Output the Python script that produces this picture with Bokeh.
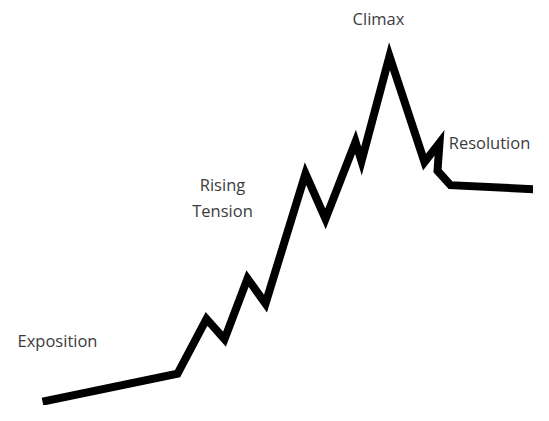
from bokeh.plotting import figure
from bokeh.models import Range1d
from bokeh.core.properties import value
from bokeh.embed import file_html
from bokeh.resources import INLINE

# Story arc (horizontal progress, dramatic intensity)
arc_x = [42, 177, 206, 224, 247, 265, 305, 325, 355, 361, 389, 424, 439, 437, 450, 550]
arc_y = [4, 33, 90, 69, 132, 106, 241, 194, 274, 254, 363, 253, 273, 244, 229, 224]

label_text = ["Exposition", "Rising", "Tension", "Climax", "Resolution"]
label_x = [57, 222, 222, 378, 489]
label_y = [68, 230, 203, 402, 273]

p = figure(width=533, height=405, output_backend="svg", toolbar_location=None,
           x_range=Range1d(0, 533), y_range=Range1d(0, 421),
           min_border=0, outline_line_color=None)
p.axis.visible = False
p.grid.visible = False

p.line(arc_x, arc_y, line_width=8, line_color="black", line_join="miter")

p.text(label_x, label_y, text=label_text, text_font=value("Open Sans"),
       text_font_size="16.5px", text_color="#3c3c3c",
       text_align="center", text_baseline="middle")

open("out.html", "w").write(file_html(p, INLINE))
